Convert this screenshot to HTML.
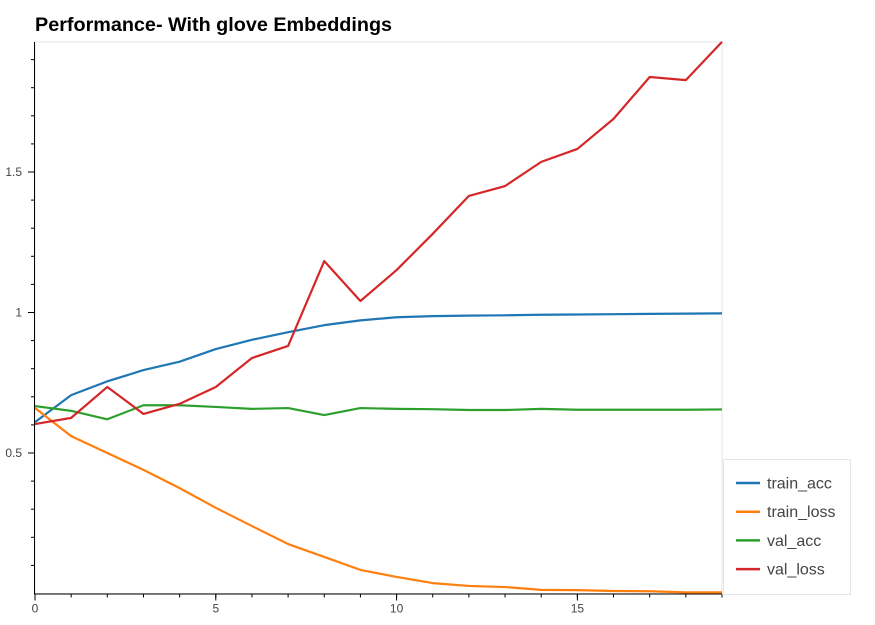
<!DOCTYPE html>
<html><head><meta charset="utf-8"><style>
body{margin:0;background:#fff;font-family:"Liberation Sans",sans-serif}
svg{display:block}
</style></head><body>
<svg width="875" height="625">
<text x="35" y="31" font-size="19.8" font-weight="bold" fill="#000">Performance- With glove Embeddings</text>
<g id="frame"></g>
<g id="lines"></g>
<g id="axes"></g>
<g id="legend"></g>
</svg>
<script>
const epochs=[0,1,2,3,4,5,6,7,8,9,10,11,12,13,14,15,16,17,18,19];
const trainAcc=[0.61,0.706,0.755,0.795,0.825,0.87,0.903,0.93,0.955,0.972,0.983,0.987,0.989,0.99,0.992,0.993,0.994,0.995,0.996,0.997];
const trainLoss=[0.66,0.56,0.50,0.44,0.375,0.305,0.24,0.176,0.13,0.084,0.059,0.037,0.027,0.023,0.013,0.012,0.009,0.008,0.004,0.004];
const valAcc=[0.667,0.65,0.62,0.67,0.67,0.664,0.657,0.66,0.635,0.66,0.657,0.656,0.653,0.653,0.657,0.654,0.654,0.654,0.654,0.655];
const valLoss=[0.603,0.625,0.735,0.639,0.675,0.735,0.838,0.881,1.183,1.041,1.151,1.28,1.415,1.45,1.536,1.582,1.689,1.838,1.827,1.963];
const xTicks=[0,5,10,15];
const yTicks=[0.5,1,1.5];
const seriesNames=["train_acc","train_loss","val_acc","val_loss"];
const seriesData=[trainAcc,trainLoss,valAcc,valLoss];
const colors=["#1f77b4","#ff7f0e","#2ca02c","#d62728"];
const NS="http://www.w3.org/2000/svg";
const X0=35,X1=722,Y0=593.5,Y1=42;
const xs=v=>X0+(v-0)/(19-0)*(X1-X0);
const ys=v=>Y0-(v-0)*281;
function mk(t,a,p){const e=document.createElementNS(NS,t);for(const k in a)e.setAttribute(k,a[k]);p.appendChild(e);return e;}
const frame=document.getElementById('frame');
const fr=mk('rect',{x:X0,y:Y1,width:X1-X0,height:Y0-Y1,fill:'none',stroke:'#e5e5e5','stroke-width':1},frame);


const lines=document.getElementById('lines');
seriesData.forEach((d,i)=>{
  const p=mk('polyline',{points:d.map((v,j)=>xs(epochs[j])+','+ys(v)).join(' '),fill:'none',stroke:colors[i],'stroke-width':2.2,'stroke-linejoin':'round'},lines);
  
  
});
const axes=document.getElementById('axes');
const xa=mk('line',{x1:X0-1,y1:Y0+0.5,x2:X1,y2:Y0+0.5,stroke:'#000','stroke-width':1},axes);


const ya=mk('line',{x1:X0-0.5,y1:Y1,x2:X0-0.5,y2:Y0+1,stroke:'#000','stroke-width':1},axes);


for(let v=1;v<=19;v++){mk('line',{x1:xs(v),y1:Y0+1,x2:xs(v),y2:Y0+4,stroke:'#000'},axes);}
xTicks.forEach(v=>{
  mk('line',{x1:xs(v),y1:Y0+1,x2:xs(v),y2:Y0+7,stroke:'#000'},axes);
  const t=mk('text',{x:xs(v),y:Y0+19,'font-size':12,fill:'#444','text-anchor':'middle'},axes);t.textContent=v;
  
  
});
for(let k=1;k<=19;k++){const v=k/10;mk('line',{x1:X0-4,y1:ys(v),x2:X0,y2:ys(v),stroke:'#000'},axes);}
yTicks.forEach(v=>{
  mk('line',{x1:X0-7,y1:ys(v),x2:X0,y2:ys(v),stroke:'#000'},axes);
  const t=mk('text',{x:X0-13,y:ys(v)+4,'font-size':12,fill:'#444','text-anchor':'end'},axes);t.textContent=v;
  
  
});
const lg=document.getElementById('legend');


mk('rect',{x:723.5,y:459.5,width:127,height:135,fill:'#fff',stroke:'#e5e5e5'},lg);
seriesNames.forEach((n,i)=>{
  const y=483+i*28.7;
  const g=mk('g',{},lg);
  
  
  mk('line',{x1:736,y1:y,x2:760,y2:y,stroke:colors[i],'stroke-width':2.5},g);
  const t=mk('text',{x:767,y:y+5.5,'font-size':16,fill:'#444'},g);t.textContent=n;
});
</script>
</body></html>
